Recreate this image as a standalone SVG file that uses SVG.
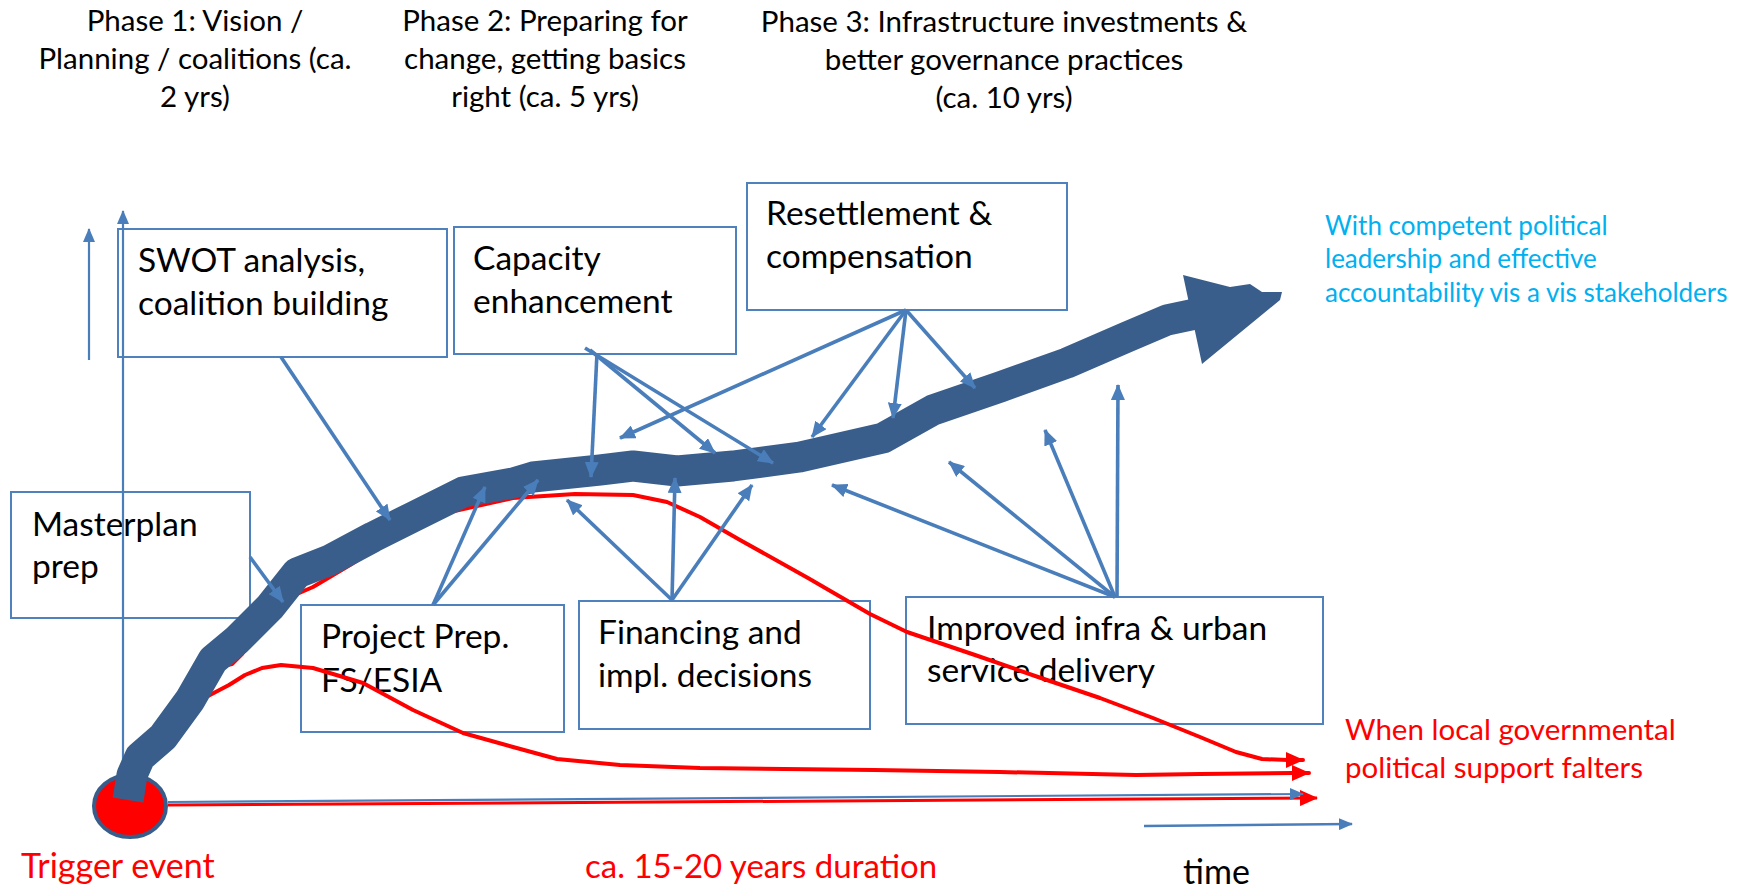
<svg xmlns="http://www.w3.org/2000/svg" width="1748" height="889" viewBox="0 0 1748 889">
<style>
  text { font-family: Lato, "Liberation Sans", sans-serif; }
  .phase { font-size: 29.5px; fill: #000; text-anchor: middle; }
  .box { fill: #fff; stroke: #4f81bd; stroke-width: 2; }
  .btxt { font-size: 33.5px; fill: #000; }
  .conn { stroke: #4a7ebb; stroke-width: 3.6; fill: none; marker-end: url(#ah); }
  .thin { stroke: #4a7ebb; stroke-width: 2.2; fill: none; }
  .red { stroke: #ff0000; stroke-width: 4; fill: none; stroke-linejoin: round; stroke-linecap: round; }
  .redtxt { fill: #ff0000; }
  .bluetxt { fill: #00b0f0; font-size: 26px; }
</style>
<defs>
  <marker id="ah" markerUnits="userSpaceOnUse" markerWidth="16" markerHeight="14" refX="15" refY="7" orient="auto">
    <path d="M0,0 L16,7 L0,14 z" fill="#4a7ebb"/>
  </marker>
  <marker id="ahs" markerUnits="userSpaceOnUse" markerWidth="14" markerHeight="12" refX="13" refY="6" orient="auto">
    <path d="M0,0 L14,6 L0,12 z" fill="#4a7ebb"/>
  </marker>
  <marker id="ahr" markerUnits="userSpaceOnUse" markerWidth="18" markerHeight="16" refX="17" refY="8" orient="auto">
    <path d="M0,0 L18,8 L0,16 z" fill="#ff0000"/>
  </marker>
</defs>
<rect width="1748" height="889" fill="#fff"/>

<g id="phase-titles">
  <text class="phase" x="195" y="31">Phase 1: Vision /</text>
  <text class="phase" x="195" y="69">Planning / coalitions (ca.</text>
  <text class="phase" x="195" y="107">2 yrs)</text>
  <text class="phase" x="545" y="31">Phase 2: Preparing for</text>
  <text class="phase" x="545" y="69">change, getting basics</text>
  <text class="phase" x="545" y="107">right (ca. 5 yrs)</text>
  <text class="phase" x="1004" y="32">Phase 3: Infrastructure investments &amp;</text>
  <text class="phase" x="1004" y="70">better governance practices</text>
  <text class="phase" x="1004" y="108">(ca. 10 yrs)</text>
</g>

<g id="masterplan">
  <rect class="box" x="11" y="492" width="239" height="126"/>
  <text class="btxt" x="32" y="536">Masterplan</text>
  <text class="btxt" x="32" y="578">prep</text>
</g>
<g id="swot">
  <rect class="box" x="118" y="229" width="329" height="128"/>
  <text class="btxt" x="138" y="272">SWOT analysis,</text>
  <text class="btxt" x="138" y="315">coalition building</text>
</g>
<g id="capacity">
  <rect class="box" x="454" y="227" width="282" height="127"/>
  <text class="btxt" x="473" y="270">Capacity</text>
  <text class="btxt" x="473" y="313">enhancement</text>
</g>
<g id="resettlement">
  <rect class="box" x="747" y="183" width="320" height="127"/>
  <text class="btxt" x="766" y="225">Resettlement &amp;</text>
  <text class="btxt" x="766" y="268">compensation</text>
</g>
<g id="project-prep">
  <rect class="box" x="301" y="605" width="263" height="127"/>
  <text class="btxt" x="321" y="648">Project Prep.</text>
  <text class="btxt" x="321" y="692">FS/ESIA</text>
</g>
<g id="financing">
  <rect class="box" x="579" y="601" width="291" height="128"/>
  <text class="btxt" x="598" y="644">Financing and</text>
  <text class="btxt" x="598" y="687">impl. decisions</text>
</g>
<g id="improved">
  <rect class="box" x="906" y="597" width="417" height="127"/>
  <text class="btxt" x="927" y="640">Improved infra &amp; urban</text>
  <text class="btxt" x="927" y="682">service delivery</text>
</g>

<g id="left-verticals">
  <line class="thin" x1="89" y1="360" x2="89" y2="229" marker-end="url(#ahs)"/>
  <line class="thin" x1="123" y1="800" x2="123" y2="211" marker-end="url(#ahs)"/>
</g>

<g id="red-curves">
  <polyline class="red" marker-end="url(#ahr)" points="215,668 232,664 242,654 256,634 270,615 290,597 313,587 350,565 397,535 450,512 513,498 575,494 633,495 667,502 700,517 740,540 808,578 870,614 907,632 975,655 1041,678 1100,698 1153,718 1200,737 1236,752 1262,759 1288,760 1303,760"/>
  <polyline class="red" marker-end="url(#ahr)" points="208,696 229,685 245,675 262,668 281,665 313,668 363,683 413,710 463,733 513,747 557,759 620,765 700,768 874,770 1000,772 1136,775 1200,774 1292,773 1309,773"/>
</g>

<g id="axis">
  <line x1="168" y1="805" x2="1317" y2="798" stroke="#ff0000" stroke-width="3" marker-end="url(#ahr)"/>
  <line x1="168" y1="802" x2="1303" y2="794" stroke="#4a7ebb" stroke-width="2.2" marker-end="url(#ahs)"/>
  <line x1="1144" y1="826" x2="1352" y2="824" stroke="#4a7ebb" stroke-width="2.5" marker-end="url(#ahs)"/>
</g>

<g id="trigger-event">
  <ellipse cx="130" cy="806" rx="36" ry="31" fill="#ff0000" stroke="#385d8a" stroke-width="4"/>
</g>

<g id="main-arrow">
  <polyline fill="none" stroke="#3a5e8b" stroke-width="31" stroke-linejoin="round" points="128,800 132,775 140,757 163,737 190,700 213,660 237,640 270,607 297,573 330,560 373,537 413,517 463,492 513,483 533,477 600,470 633,466 677,471 733,466 800,457 883,438 933,410 1000,387 1067,363 1127,337 1167,320 1200,313"/>
  <polygon fill="#3a5e8b" points="1183,275 1230,287 1250,284 1262,292 1282,292 1280,300 1202,364"/>
</g>

<g id="connectors">
  <line class="conn" x1="281" y1="357" x2="390" y2="520"/>
  <line class="conn" x1="250" y1="557" x2="283" y2="602"/>
  <line class="conn" x1="597" y1="353" x2="591" y2="477"/>
  <line class="conn" x1="590" y1="350" x2="715" y2="453"/>
  <line class="conn" x1="585" y1="348" x2="773" y2="463"/>
  <line class="conn" x1="906" y1="310" x2="620" y2="438"/>
  <line class="conn" x1="906" y1="310" x2="812" y2="437"/>
  <line class="conn" x1="906" y1="310" x2="893" y2="418"/>
  <line class="conn" x1="906" y1="310" x2="975" y2="388"/>
  <line class="conn" x1="433" y1="605" x2="485" y2="487"/>
  <line class="conn" x1="433" y1="605" x2="538" y2="480"/>
  <line class="conn" x1="672" y1="600" x2="567" y2="500"/>
  <line class="conn" x1="672" y1="600" x2="675" y2="478"/>
  <line class="conn" x1="672" y1="600" x2="752" y2="485"/>
  <line class="conn" x1="1115" y1="597" x2="832" y2="485"/>
  <line class="conn" x1="1115" y1="597" x2="949" y2="462"/>
  <line class="conn" x1="1115" y1="597" x2="1045" y2="430"/>
  <line class="conn" x1="1117" y1="597" x2="1118" y2="385"/>
</g>

<g id="annotations">
  <text class="bluetxt" x="1325" y="235">With competent political</text>
  <text class="bluetxt" x="1325" y="268">leadership and effective</text>
  <text class="bluetxt" x="1325" y="302">accountability vis a vis stakeholders</text>
  <text class="redtxt" x="1345" y="740" font-size="29.5">When local governmental</text>
  <text class="redtxt" x="1345" y="778" font-size="29.5">political support falters</text>
  <text class="redtxt" x="21" y="878" font-size="34">Trigger event</text>
  <text class="redtxt" x="585" y="878" font-size="33">ca. 15-20 years duration</text>
  <text x="1183" y="884" font-size="34" fill="#000">time</text>
</g>
</svg>
